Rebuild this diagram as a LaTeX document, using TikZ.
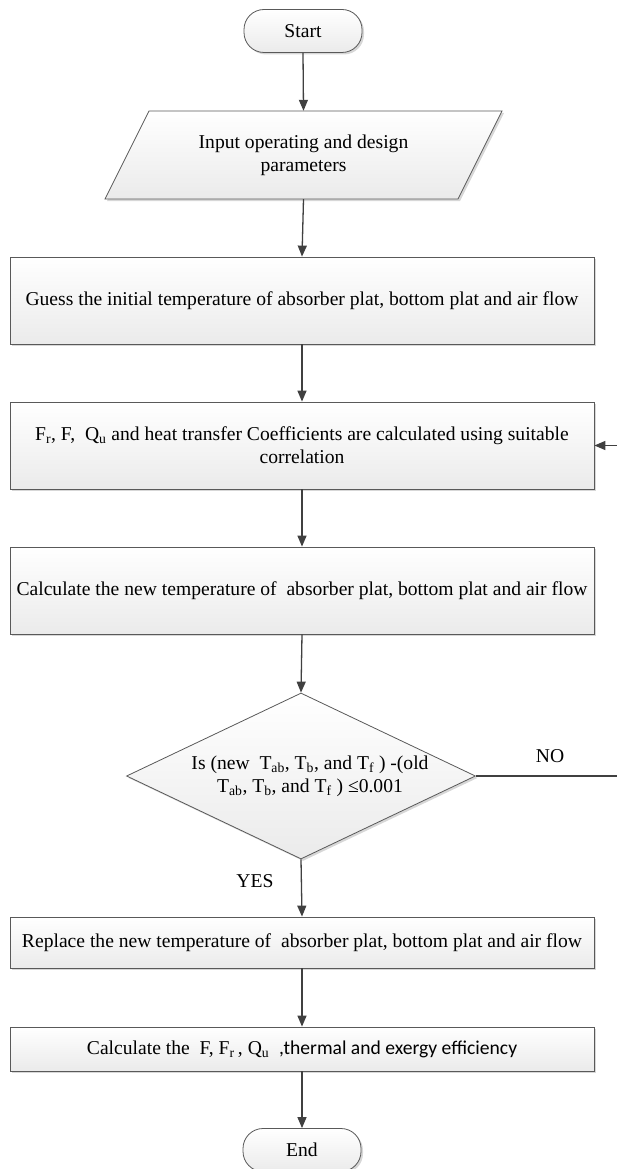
\documentclass[tikz,border=0pt]{standalone}
\usepackage{fontspec}
\setmainfont{Liberation Serif}
\newfontfamily\calib{Carlito}
\usetikzlibrary{arrows.meta,shapes.geometric,shadows}
\begin{document}
\begin{tikzpicture}[x=1pt,y=-1pt,
  font=\fontsize{19.6}{23}\selectfont,
  fcshade/.style={draw=black!65, line width=0.8pt, top color=white, bottom color=black!8,
    drop shadow={shadow xshift=2pt, shadow yshift=-2pt, opacity=0.35, fill=black!45}},
  fcbox/.style={fcshade, rectangle, minimum width=584pt, align=center, inner sep=0pt},
  fcterm/.style={fcshade, rectangle, rounded corners=20pt, minimum width=118pt, minimum height=43pt},
  fcdec/.style={fcshade, diamond, aspect=2.1, minimum width=349pt, minimum height=166pt, inner sep=0pt, align=center},
  fcarrow/.style={draw=black!75, line width=1.3pt, -{Triangle[length=11pt,width=9pt]}},
  fclabel/.style={inner sep=0pt}
]
\useasboundingbox (0,0) rectangle (617,1169);

% shapes
\node[fcterm] (start) at (303,31) {Start};

\path[fcshade] (149,111) -- (502,111) -- (458,199) -- (105,199) -- cycle;
\node[align=center, minimum height=88pt, inner sep=0pt] (input) at (303.5,155)
  {Input operating and design\\parameters};

\node[fcbox, minimum height=87pt] (b1) at (302,300.5)
  {Guess the initial temperature of absorber plat, bottom plat and air flow};
\node[fcbox, minimum height=87pt] (b2) at (302,445.5)
  {F\textsubscript{r}, F,~ Q\textsubscript{u} and heat transfer Coefficients are calculated using suitable\\correlation};
\node[fcbox, minimum height=87pt] (b3) at (302,590.5)
  {Calculate the new temperature of~ absorber plat, bottom plat and air flow};

\node[fcdec] (dec) at (301,776) {};
\node[align=center, inner sep=0pt] (dectext) at (310,776)
  {Is (new~ T\textsubscript{ab}, T\textsubscript{b}, and T\textsubscript{f} ) -(old\\
   T\textsubscript{ab}, T\textsubscript{b}, and T\textsubscript{f} ) ≤0.001};

\node[fcbox, minimum height=51pt] (b4) at (302,942.5)
  {Replace the new temperature of~ absorber plat, bottom plat and air flow};
\node[fcbox, minimum height=44pt] (b5) at (302,1049)
  {Calculate the~ F, F\textsubscript{r}\,, Q\textsubscript{u}~ {\calib ,thermal and exergy efficiency}};

\node[fcterm] (end) at (302,1150) {End};

% labels
\node[fclabel] (no) at (550,756) {NO};
\node[fclabel] (yes) at (255,881) {YES};

\coordinate (loopR) at (620,0);

% connectors
\draw[fcarrow] (start.south) -- (input.north);
\draw[fcarrow] (input.south) -- (b1.north);
\draw[fcarrow] (b1.south) -- (b2.north);
\draw[fcarrow] (b2.south) -- (b3.north);
\draw[fcarrow] (b3.south) -- (dec.north);
\draw[fcarrow] (dec.east) -- (loopR |- dec.east) |- (b2.east);
\draw[fcarrow] (dec.south) -- (b4.north);
\draw[fcarrow] (b4.south) -- (b5.north);
\draw[fcarrow] (b5.south) -- (end.north);
\end{tikzpicture}
\end{document}
